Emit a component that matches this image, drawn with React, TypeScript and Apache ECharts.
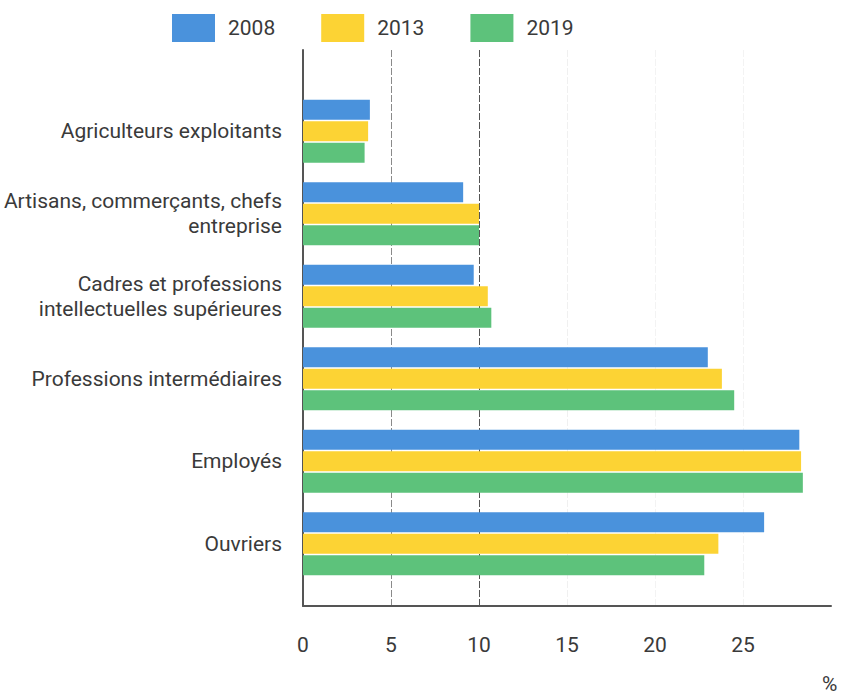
import React, { useEffect, useRef } from "react";
import * as echarts from "echarts";

const categories = [
  "Agriculteurs exploitants",
  "Artisans, commerçants, chefs\nentreprise",
  "Cadres et professions\nintellectuelles supérieures",
  "Professions intermédiaires",
  "Employés",
  "Ouvriers",
];
const years = ["2008", "2013", "2019"];
const v2008 = [3.8, 9.1, 9.7, 23.0, 28.2, 26.2];
const v2013 = [3.7, 10.0, 10.5, 23.8, 28.3, 23.6];
const v2019 = [3.5, 10.0, 10.7, 24.5, 28.4, 22.8];
const colors = ["#4a92dc", "#fcd334", "#5dc27b"];
const unitLabel = "%";

const FONT = "Roboto, 'Noto Sans', sans-serif";
const TEXT = "#3a3a3a";

export default function App() {
  const ref = useRef<HTMLDivElement>(null);
  useEffect(() => {
    if (!ref.current) return;
    const chart = echarts.init(ref.current, null, { renderer: "svg" });
    const seriesData = [v2008, v2013, v2019];
    chart.setOption({
      animation: false,
      textStyle: { fontFamily: FONT },
      legend: {
        left: 167,
        top: 9,
        itemWidth: 43,
        itemHeight: 28,
        itemGap: 46,
        icon: "rect",
        data: years,
        textStyle: { fontSize: 21, color: TEXT, fontFamily: FONT, padding: [0, 0, 0, 8] },
      },
      grid: [
        { left: 303, right: 14, top: 90, bottom: 111 },
        { left: 303, right: 14, top: 50, bottom: 90 },
      ],
      xAxis: [
        {
          gridIndex: 0,
          type: "value",
          min: 0,
          max: 30,
          interval: 5,
          show: false,
        },
        {
          gridIndex: 1,
          type: "value",
          min: 0,
          max: 30,
          interval: 5,
          axisLine: { show: true, lineStyle: { color: "#555", width: 2 } },
          axisTick: { show: false },
          axisLabel: {
            margin: 28,
            fontSize: 21,
            color: TEXT,
            fontFamily: FONT,
            showMaxLabel: false,
          },
          splitLine: {
            show: true,
            lineStyle: {
              type: [7, 2],
              width: 1,
              color: ["rgba(0,0,0,0)", "#8a8a8a", "#555", "#f0f0f0", "#f3f3f3", "#f3f3f3", "rgba(0,0,0,0)"],
            },
          },
        },
      ],
      yAxis: [
        {
          gridIndex: 0,
          type: "category",
          inverse: true,
          data: categories,
          axisLine: { show: false },
          axisTick: { show: false },
          axisLabel: {
            margin: 21,
            fontSize: 21,
            lineHeight: 25,
            color: TEXT,
            fontFamily: FONT,
            align: "right",
          },
        },
        {
          gridIndex: 1,
          type: "value",
          min: 0,
          max: 1,
          axisLine: { show: true, lineStyle: { color: "#555", width: 2 } },
          axisTick: { show: false },
          axisLabel: { show: false },
          splitLine: { show: false },
        },
      ],
      graphic: [
        {
          type: "text",
          left: 822,
          top: 673,
          style: { text: unitLabel, fontSize: 21, fill: TEXT, fontFamily: FONT },
        },
      ],
      series: years.map((y, i) => ({
        name: y,
        type: "bar",
        xAxisIndex: 0,
        yAxisIndex: 0,
        data: seriesData[i],
        barWidth: 20,
        barGap: "8%",
        itemStyle: { color: colors[i] },
      })),
    });
    return () => chart.dispose();
  }, []);
  return <div ref={ref} style={{ width: 845, height: 696, position: "absolute", left: 0, top: 0 }} />;
}
